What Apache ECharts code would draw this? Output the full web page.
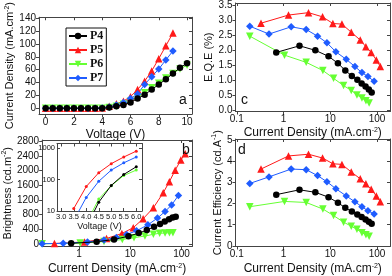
<!DOCTYPE html>
<html><head><meta charset="utf-8">
<script src="https://cdn.jsdelivr.net/npm/echarts@6/dist/echarts.min.js"></script>
<style>html,body{margin:0;padding:0;background:#fff}#c{width:392px;height:276px}</style>
</head><body><div id="c"></div>
<script>
// ---------- data ----------
const names = ['P4', 'P5', 'P6', 'P7'];
// panel a : J-V
const voltage = [0,0.5,1,1.5,2,2.5,3,3.5,4,4.5,5,5.5,6,6.5,7,7.5,8,8.5,9,9.5,10];
const jvP4 = [0,0,0,0,0,0,0,0,0,1,3,5,9,15,21,29,37,45,54,63,70];
const jvP5 = [0,0,0,0,0,0,0,0,0.5,3,7,11,18,29,42,58,77,97,117];
const jvP6 = [0,0,0,0,0,0,0,0,0,1,3,6,11,17,24,32,39,47,54,61,67];
const jvP7 = [0,0,0,0,0,0,0,0,0.5,2,5,9,15,22,37,49,61,75,89];
// panels b, c, d : current density for each device
const jP4 = [0.7,2.2,4.8,9.2,14.6,21,29,38,47,57,67,77];
const jP5 = [0.33,1.28,3.43,6.85,11.4,17.8,28.2,43.9,57.9,75.2,96.8,118];
const jP6 = [0.19,1.05,3.06,6.97,11.8,19.3,28.2,37.3,47.7,58,68];
const jP7 = [0.19,0.49,1.46,3.06,5.35,8.5,13.2,22,33.8,47.7,64,87];
// panel b : brightness
const lumP4 = [17,58,121,210,295,376,467,545,612,675,718,740];
const lumP5 = [12,54,149,284,442,685,984,1392,1696,2008,2284,2454];
const lumP6 = [4,22,63,121,169,216,262,291,296,307,306];
const lumP7 = [6,16,53,110,178,258,356,519,703,882,1062,1320];
// panel c : EQE
const eqeP4 = [1.93,2.15,2.0,1.8,1.57,1.33,1.15,1.02,0.9,0.8,0.7,0.6];
const eqeP5 = [2.9,3.17,3.25,3.11,2.89,2.87,2.6,2.34,2.12,1.93,1.68,1.46];
const eqeP6 = [2.47,1.84,1.6,1.33,1.07,0.83,0.67,0.52,0.42,0.33,0.25];
const eqeP7 = [2.8,2.54,2.78,2.69,2.47,2.25,1.95,1.70,1.46,1.26,1.13,0.97];
// panel d : current efficiency
const ceP4 = [2.42,2.65,2.53,2.3,2.04,1.8,1.62,1.48,1.36,1.25,1.14,1.05];
const ceP5 = [3.63,4.25,4.33,4.15,3.88,3.85,3.49,3.17,2.93,2.67,2.36,2.08];
const ceP6 = [1.85,2.1,2.05,1.74,1.43,1.12,0.93,0.78,0.62,0.53,0.45];
const ceP7 = [2.95,3.26,3.63,3.6,3.32,3.03,2.7,2.36,2.08,1.85,1.66,1.5];
// inset : brightness vs voltage
const insV4 = [4.0,4.5,5.0,5.5,6.0];
const insL4 = [3,19,65,145,255];
const insV5 = [3.5,4.0,4.5,5.0,5.5,6.0];
const insL5 = [12,60,165,320,520,800];
const insV6 = [4.0,4.5,5.0,5.5,6.0];
const insL6 = [4,24,64,134,200];
const insV7 = [3.5,4.0,4.5,5.0,5.5,6.0];
const insL7 = [5,27,88,200,340,520];
// tick labels
const ticksAx = [0,2,4,6,8,10];
const ticksAy = [0,20,40,60,80,100,120,140];
const ticksBy = [0,400,800,1200,1600,2000,2400,2800];
const ticksCy = [0,0.5,1,1.5,2,2.5,3,3.5];
const ticksDy = [0,1,2,3,4,5];
const ticksInsX = [3,3.5,4,4.5,5,5.5,6];

// ---------- style ----------
const F = 'Liberation Sans, Arial, sans-serif';
const colors = {P4:'#000000', P5:'#ff1a1a', P6:'#66ff33', P7:'#1f5cff'};
const symbols = {P4:'circle', P5:'triangle', P6:'path://M0,0L10,0L5,9Z', P7:'diamond'};
const symSize = {P4:6.5, P5:7.5, P6:7.5, P7:7.5};
const axisCol = '#444';

const zip = (xs, ys) => xs.slice(0, ys.length).map((x, i) => [x, ys[i]]);

function axisPair(kind, gi, base, labelOpts, nameOpts) {
  const main = Object.assign({
    gridIndex: gi,
    position: kind === 'x' ? 'bottom' : 'left',
    axisLine: {show: true, onZero: false, lineStyle: {color: axisCol, width: 1}},
    axisTick: {show: true, inside: false, length: 3, lineStyle: {color: axisCol}},
    splitLine: {show: false},
    axisLabel: Object.assign({fontSize: 10, color: '#111', fontFamily: F, margin: 3}, labelOpts || {}),
  }, base, nameOpts || {});
  const mirror = Object.assign({
    gridIndex: gi,
    position: kind === 'x' ? 'top' : 'right',
    axisLine: {show: true, onZero: false, lineStyle: {color: axisCol, width: 1}},
    axisTick: {show: true, inside: true, length: 3, lineStyle: {color: axisCol}},
    splitLine: {show: false},
    axisLabel: {show: false},
  }, base);
  if (labelOpts && labelOpts.customValues) {
    main.axisTick.customValues = labelOpts.customValues;
    mirror.axisTick.customValues = labelOpts.customValues;
  }
  return [main, mirror];
}

const rich = {s: {fontSize: 7, fontFamily: F, padding: [0, 0, 6, 0]}};
const nameStyle = (sz) => ({fontSize: sz, fontFamily: F, color: '#111', rich: rich});

const xAxes = [], yAxes = [];
// grid 0 : a
xAxes.push(...axisPair('x', 0, {type: 'value', min: -0.47, max: 10.35},
  {customValues: ticksAx, formatter: v => String(v)},
  {name: 'Voltage (V)', nameLocation: 'middle', nameGap: 15, nameTextStyle: nameStyle(12)}));
yAxes.push(...axisPair('y', 0, {type: 'value', min: -9, max: 141.5},
  {customValues: ticksAy, formatter: v => String(v)},
  {name: 'Current Density (mA.cm{s|-2})', nameLocation: 'middle', nameGap: 22, nameTextStyle: nameStyle(11)}));
// grid 1 : b
xAxes.push(...axisPair('x', 1, {type: 'log', min: 0.19, max: 160, logBase: 10},
  {showMinLabel: false, showMaxLabel: false},
  {name: 'Current Density (mA.cm{s|-2})', nameLocation: 'middle', nameGap: 16, nameTextStyle: nameStyle(12)}));
yAxes.push(...axisPair('y', 1, {type: 'value', min: -70, max: 2830},
  {customValues: ticksBy, formatter: v => String(v)},
  {name: 'Brightness (cd.m{s|-2})', nameLocation: 'middle', nameGap: 25, nameTextStyle: nameStyle(11)}));
// grid 2 : c
xAxes.push(...axisPair('x', 2, {type: 'log', min: 0.094, max: 190, logBase: 10},
  {showMinLabel: false, showMaxLabel: false},
  {name: 'Current Density (mA.cm{s|-2})', nameLocation: 'middle', nameGap: 15, nameTextStyle: nameStyle(12)}));
yAxes.push(...axisPair('y', 2, {type: 'value', min: -0.03, max: 3.57},
  {customValues: ticksCy, formatter: v => v.toFixed(1)},
  {name: 'E.Q.E (%)', nameLocation: 'middle', nameGap: 20, nameTextStyle: nameStyle(11)}));
// grid 3 : d
xAxes.push(...axisPair('x', 3, {type: 'log', min: 0.094, max: 190, logBase: 10},
  {showMinLabel: false, showMaxLabel: false},
  {name: 'Current Density (mA.cm{s|-2})', nameLocation: 'middle', nameGap: 16, nameTextStyle: nameStyle(12)}));
yAxes.push(...axisPair('y', 3, {type: 'value', min: -0.03, max: 5.05},
  {customValues: ticksDy, formatter: v => String(v)},
  {name: 'Current Efficiency (cd.A{s|-1})', nameLocation: 'middle', nameGap: 10, nameTextStyle: nameStyle(11)}));
// grid 4 : inset
xAxes.push(...axisPair('x', 4, {type: 'value', min: 2.83, max: 6.23},
  {customValues: ticksInsX, formatter: v => v.toFixed(1), fontSize: 7.5, margin: 2},
  {name: 'Voltage (V)', nameLocation: 'middle', nameGap: 10, nameTextStyle: nameStyle(9)}));
yAxes.push(...axisPair('y', 4, {type: 'log', min: 10, max: 1400, logBase: 10},
  {showMaxLabel: false, fontSize: 7.5, margin: 2, formatter: v => String(Math.round(v))}));
xAxes[8].axisTick.inside = true; yAxes[8].axisTick.inside = true;

const series = [];
function addSeries(gi, nm, data, opts) {
  series.push(Object.assign({
    type: 'line', name: nm, xAxisIndex: gi * 2, yAxisIndex: gi * 2, data: data,
    symbol: symbols[nm], symbolSize: symSize[nm], showSymbol: true,
    lineStyle: {width: 1, color: colors[nm]},
    itemStyle: {color: colors[nm]},
    animation: false, clip: true, z: nm === 'P4' ? 3 : 2
  }, opts || {}));
}
addSeries(0, 'P4', zip(voltage, jvP4));
addSeries(0, 'P5', zip(voltage, jvP5));
addSeries(0, 'P6', zip(voltage, jvP6));
addSeries(0, 'P7', zip(voltage, jvP7));
addSeries(1, 'P4', zip(jP4, lumP4));
addSeries(1, 'P5', zip(jP5, lumP5));
addSeries(1, 'P6', zip(jP6, lumP6));
addSeries(1, 'P7', zip(jP7, lumP7));
addSeries(2, 'P4', zip(jP4, eqeP4));
addSeries(2, 'P5', zip(jP5, eqeP5));
addSeries(2, 'P6', zip(jP6, eqeP6));
addSeries(2, 'P7', zip(jP7, eqeP7));
addSeries(3, 'P4', zip(jP4, ceP4));
addSeries(3, 'P5', zip(jP5, ceP5));
addSeries(3, 'P6', zip(jP6, ceP6));
addSeries(3, 'P7', zip(jP7, ceP7));
const small = {symbol: 'circle', symbolSize: 3};
addSeries(4, 'P4', zip(insV4, insL4), small);
addSeries(4, 'P5', zip(insV5, insL5), small);
addSeries(4, 'P6', zip(insV6, insL6), small);
addSeries(4, 'P7', zip(insV7, insL7), small);

const lbl = (t, l, tp) => ({text: t, left: l, top: tp, padding: 0,
  textStyle: {fontSize: 14, fontWeight: 'normal', fontFamily: F, color: '#111'}});

const option = {
  backgroundColor: '#fff',
  animation: false,
  grid: [
    {left: 39, top: 4, width: 153, height: 110},
    {left: 39, top: 140, width: 153, height: 108.5},
    {left: 235.5, top: 3, width: 154.5, height: 108.5},
    {left: 235.5, top: 139, width: 154.5, height: 109},
    {left: 57, top: 143.5, width: 85, height: 67.5, show: true, backgroundColor: '#fff', borderWidth: 0}
  ],
  xAxis: xAxes,
  yAxis: yAxes,
  legend: {
    data: names, orient: 'vertical', left: 66, top: 28,
    borderColor: '#111', borderWidth: 1, padding: [2, 3, 2, 2],
    itemGap: 2, itemWidth: 18, itemHeight: 8,
    textStyle: {fontFamily: 'Liberation Serif, Times New Roman, serif', fontWeight: 'bold', fontSize: 12, color: '#111', padding: [0, 0, 0, -2]},
    selectedMode: false
  },
  title: [lbl('a', 179, 93), lbl('b', 182, 143), lbl('c', 241, 93), lbl('d', 238, 143)],
  series: series
};
const chart = echarts.init(document.getElementById('c'), null, {renderer: 'canvas'});
chart.setOption(option);
</script></body></html>
